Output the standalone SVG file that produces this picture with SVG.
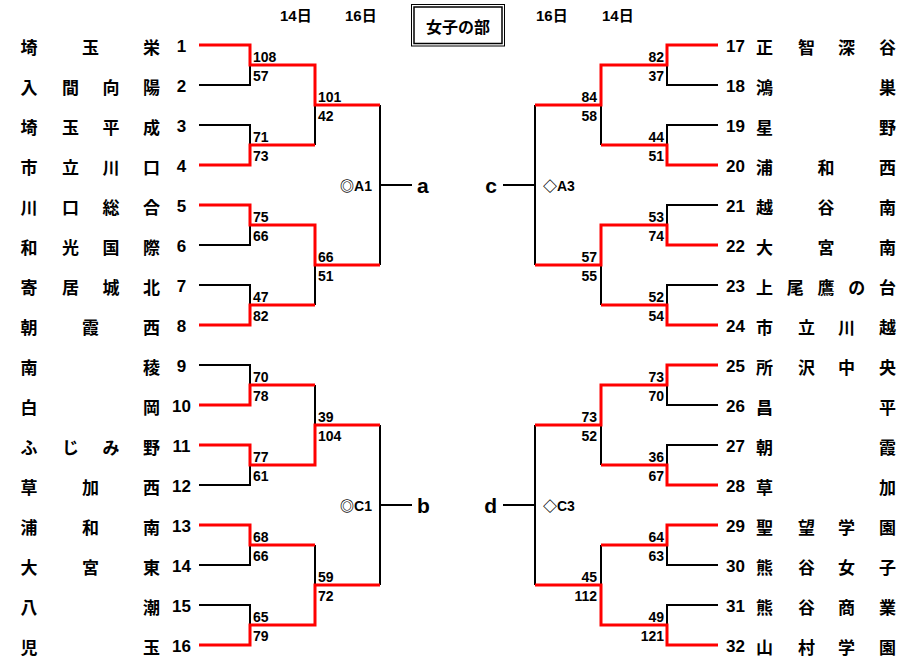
<svg xmlns="http://www.w3.org/2000/svg" width="917" height="658" viewBox="0 0 917 658">
<style>
.nm{font-family:"Noto Sans CJK JP","Noto Sans CJK SC",sans-serif;font-weight:bold;font-size:17px;text-anchor:middle;dominant-baseline:central;fill:#000}
.no{font-family:"Liberation Sans",Arial,sans-serif;font-weight:bold;font-size:17px;fill:#000}
.sc{font-family:"Liberation Sans",Arial,sans-serif;font-weight:bold;font-size:14px;fill:#000}
.scr{font-family:"Liberation Sans",Arial,sans-serif;font-weight:bold;font-size:14px;fill:#000;text-anchor:end}
.hd{font-family:"Liberation Sans","Noto Sans CJK JP",sans-serif;font-weight:bold;font-size:15px;fill:#000}
.lb{font-family:"Liberation Sans","Noto Sans CJK JP",sans-serif;font-weight:bold;font-size:14px;fill:#000}
.sym{font-family:"Noto Sans CJK JP",sans-serif;font-weight:900}
.big{font-family:"Liberation Sans",Arial,sans-serif;font-weight:bold;font-size:21px;fill:#000}
.bk{fill:none;stroke:#000;stroke-width:2}
.rd{fill:none;stroke:#ff0000;stroke-width:3}
</style>
<rect width="917" height="658" fill="#fff"/>
<g id="header">
<text class="hd" x="280" y="21">14日</text>
<text class="hd" x="345" y="21">16日</text>
<text class="hd" x="536" y="21">16日</text>
<text class="hd" x="602" y="21">14日</text>
</g>
<g id="title">
<rect x="411.5" y="4.5" width="93" height="41.5" fill="none" stroke="#000" stroke-width="1"/>
<rect x="414" y="7" width="88" height="36.5" fill="none" stroke="#000" stroke-width="1.5"/>
<text class="nm" x="458" y="26" style="font-size:16px">女子の部</text>
</g>
<g id="connectors">
<path class="bk" d="M199,85H250V65M199,125H250V145M315,105V145M199,245H250V225M199,285H250V305M315,265V305M380,105V265M380,185H412M199,365H250V385M199,485H250V465M315,385V425M199,565H250V545M199,605H250V625M315,545V585M380,425V585M380,505H412"/>
<path class="bk" d="M718,85H667V65M718,125H667V145M601,105V145M718,205H667V225M718,285H667V305M601,265V305M535,105V265M535,185H503M718,405H667V385M718,445H667V465M601,425V465M718,565H667V545M718,605H667V625M601,545V585M535,425V585M535,505H503"/>
<path class="rd" d="M199,45H250V65H315V105H380M199,165H250V145H315M199,205H250V225H315V265H380M199,325H250V305H315M199,405H250V385H315M199,445H250V465H315V425H380M199,525H250V545H315M199,645H250V625H315V585H380"/>
<path class="rd" d="M718,45H667V65H601V105H535M718,165H667V145H601M718,245H667V225H601V265H535M718,325H667V305H601M718,365H667V385H601V425H535M718,485H667V465H601M718,525H667V545H601M718,645H667V625H601V585H535"/>
</g>
<g id="scores-left">
<text class="sc" x="253" y="62">108</text><text class="sc" x="253" y="81">57</text>
<text class="sc" x="253" y="142">71</text><text class="sc" x="253" y="161">73</text>
<text class="sc" x="318" y="102">101</text><text class="sc" x="318" y="121">42</text>
<text class="sc" x="253" y="222">75</text><text class="sc" x="253" y="241">66</text>
<text class="sc" x="253" y="302">47</text><text class="sc" x="253" y="321">82</text>
<text class="sc" x="318" y="262">66</text><text class="sc" x="318" y="281">51</text>
<text class="sc" x="253" y="382">70</text><text class="sc" x="253" y="401">78</text>
<text class="sc" x="253" y="462">77</text><text class="sc" x="253" y="481">61</text>
<text class="sc" x="318" y="422">39</text><text class="sc" x="318" y="441">104</text>
<text class="sc" x="253" y="542">68</text><text class="sc" x="253" y="561">66</text>
<text class="sc" x="253" y="622">65</text><text class="sc" x="253" y="641">79</text>
<text class="sc" x="318" y="582">59</text><text class="sc" x="318" y="601">72</text>
</g>
<g id="scores-right">
<text class="scr" x="664" y="62">82</text><text class="scr" x="664" y="81">37</text>
<text class="scr" x="664" y="142">44</text><text class="scr" x="664" y="161">51</text>
<text class="scr" x="597" y="102">84</text><text class="scr" x="597" y="121">58</text>
<text class="scr" x="664" y="222">53</text><text class="scr" x="664" y="241">74</text>
<text class="scr" x="664" y="302">52</text><text class="scr" x="664" y="321">54</text>
<text class="scr" x="597" y="262">57</text><text class="scr" x="597" y="281">55</text>
<text class="scr" x="664" y="382">73</text><text class="scr" x="664" y="401">70</text>
<text class="scr" x="664" y="462">36</text><text class="scr" x="664" y="481">67</text>
<text class="scr" x="597" y="422">73</text><text class="scr" x="597" y="441">52</text>
<text class="scr" x="664" y="542">64</text><text class="scr" x="664" y="561">63</text>
<text class="scr" x="664" y="622">49</text><text class="scr" x="664" y="641">121</text>
<text class="scr" x="597" y="582">45</text><text class="scr" x="597" y="601">112</text>
</g>
<g id="final-a"><text class="lb" x="372" y="191" text-anchor="end"><tspan class="sym">◎</tspan>A1</text><text class="big" x="417" y="193">a</text></g>
<g id="final-b"><text class="lb" x="372" y="511" text-anchor="end"><tspan class="sym">◎</tspan>C1</text><text class="big" x="417" y="513">b</text></g>
<g id="final-c"><text class="lb" x="543" y="191"><tspan class="sym">◇</tspan>A3</text><text class="big" x="497" y="193" text-anchor="end">c</text></g>
<g id="final-d"><text class="lb" x="543" y="511"><tspan class="sym">◇</tspan>C3</text><text class="big" x="497" y="513" text-anchor="end">d</text></g>
<g id="team1"><text class="nm" x="29" y="46">埼</text><text class="nm" x="90.5" y="46">玉</text><text class="nm" x="151.5" y="46">栄</text><text class="no" x="181.5" y="52" text-anchor="middle">1</text></g>
<g id="team2"><text class="nm" x="29" y="86">入</text><text class="nm" x="70.5" y="86">間</text><text class="nm" x="111" y="86">向</text><text class="nm" x="151.5" y="86">陽</text><text class="no" x="181.5" y="92" text-anchor="middle">2</text></g>
<g id="team3"><text class="nm" x="29" y="126">埼</text><text class="nm" x="70.5" y="126">玉</text><text class="nm" x="111" y="126">平</text><text class="nm" x="151.5" y="126">成</text><text class="no" x="181.5" y="132" text-anchor="middle">3</text></g>
<g id="team4"><text class="nm" x="29" y="166">市</text><text class="nm" x="70.5" y="166">立</text><text class="nm" x="111" y="166">川</text><text class="nm" x="151.5" y="166">口</text><text class="no" x="181.5" y="172" text-anchor="middle">4</text></g>
<g id="team5"><text class="nm" x="29" y="206">川</text><text class="nm" x="70.5" y="206">口</text><text class="nm" x="111" y="206">総</text><text class="nm" x="151.5" y="206">合</text><text class="no" x="181.5" y="212" text-anchor="middle">5</text></g>
<g id="team6"><text class="nm" x="29" y="246">和</text><text class="nm" x="70.5" y="246">光</text><text class="nm" x="111" y="246">国</text><text class="nm" x="151.5" y="246">際</text><text class="no" x="181.5" y="252" text-anchor="middle">6</text></g>
<g id="team7"><text class="nm" x="29" y="286">寄</text><text class="nm" x="70.5" y="286">居</text><text class="nm" x="111" y="286">城</text><text class="nm" x="151.5" y="286">北</text><text class="no" x="181.5" y="292" text-anchor="middle">7</text></g>
<g id="team8"><text class="nm" x="29" y="326">朝</text><text class="nm" x="90.5" y="326">霞</text><text class="nm" x="151.5" y="326">西</text><text class="no" x="181.5" y="332" text-anchor="middle">8</text></g>
<g id="team9"><text class="nm" x="29" y="366">南</text><text class="nm" x="151.5" y="366">稜</text><text class="no" x="181.5" y="372" text-anchor="middle">9</text></g>
<g id="team10"><text class="nm" x="29" y="406">白</text><text class="nm" x="151.5" y="406">岡</text><text class="no" x="181.5" y="412" text-anchor="middle">10</text></g>
<g id="team11"><text class="nm" x="29" y="446">ふ</text><text class="nm" x="70.5" y="446">じ</text><text class="nm" x="111" y="446">み</text><text class="nm" x="151.5" y="446">野</text><text class="no" x="181.5" y="452" text-anchor="middle">11</text></g>
<g id="team12"><text class="nm" x="29" y="486">草</text><text class="nm" x="90.5" y="486">加</text><text class="nm" x="151.5" y="486">西</text><text class="no" x="181.5" y="492" text-anchor="middle">12</text></g>
<g id="team13"><text class="nm" x="29" y="526">浦</text><text class="nm" x="90.5" y="526">和</text><text class="nm" x="151.5" y="526">南</text><text class="no" x="181.5" y="532" text-anchor="middle">13</text></g>
<g id="team14"><text class="nm" x="29" y="566">大</text><text class="nm" x="90.5" y="566">宮</text><text class="nm" x="151.5" y="566">東</text><text class="no" x="181.5" y="572" text-anchor="middle">14</text></g>
<g id="team15"><text class="nm" x="29" y="606">八</text><text class="nm" x="151.5" y="606">潮</text><text class="no" x="181.5" y="612" text-anchor="middle">15</text></g>
<g id="team16"><text class="nm" x="29" y="646">児</text><text class="nm" x="151.5" y="646">玉</text><text class="no" x="181.5" y="652" text-anchor="middle">16</text></g>
<g id="team17"><text class="no" x="726" y="52">17</text><text class="nm" x="764.5" y="46">正</text><text class="nm" x="806.5" y="46">智</text><text class="nm" x="846.5" y="46">深</text><text class="nm" x="887.5" y="46">谷</text></g>
<g id="team18"><text class="no" x="726" y="92">18</text><text class="nm" x="764.5" y="86">鴻</text><text class="nm" x="887.5" y="86">巣</text></g>
<g id="team19"><text class="no" x="726" y="132">19</text><text class="nm" x="764.5" y="126">星</text><text class="nm" x="887.5" y="126">野</text></g>
<g id="team20"><text class="no" x="726" y="172">20</text><text class="nm" x="764.5" y="166">浦</text><text class="nm" x="826" y="166">和</text><text class="nm" x="887.5" y="166">西</text></g>
<g id="team21"><text class="no" x="726" y="212">21</text><text class="nm" x="764.5" y="206">越</text><text class="nm" x="826" y="206">谷</text><text class="nm" x="887.5" y="206">南</text></g>
<g id="team22"><text class="no" x="726" y="252">22</text><text class="nm" x="764.5" y="246">大</text><text class="nm" x="826" y="246">宮</text><text class="nm" x="887.5" y="246">南</text></g>
<g id="team23"><text class="no" x="726" y="292">23</text><text class="nm" x="764.5" y="286">上</text><text class="nm" x="795.3" y="286">尾</text><text class="nm" x="826" y="286">鷹</text><text class="nm" x="856.8" y="286">の</text><text class="nm" x="887.5" y="286">台</text></g>
<g id="team24"><text class="no" x="726" y="332">24</text><text class="nm" x="764.5" y="326">市</text><text class="nm" x="806.5" y="326">立</text><text class="nm" x="846.5" y="326">川</text><text class="nm" x="887.5" y="326">越</text></g>
<g id="team25"><text class="no" x="726" y="372">25</text><text class="nm" x="764.5" y="366">所</text><text class="nm" x="806.5" y="366">沢</text><text class="nm" x="846.5" y="366">中</text><text class="nm" x="887.5" y="366">央</text></g>
<g id="team26"><text class="no" x="726" y="412">26</text><text class="nm" x="764.5" y="406">昌</text><text class="nm" x="887.5" y="406">平</text></g>
<g id="team27"><text class="no" x="726" y="452">27</text><text class="nm" x="764.5" y="446">朝</text><text class="nm" x="887.5" y="446">霞</text></g>
<g id="team28"><text class="no" x="726" y="492">28</text><text class="nm" x="764.5" y="486">草</text><text class="nm" x="887.5" y="486">加</text></g>
<g id="team29"><text class="no" x="726" y="532">29</text><text class="nm" x="764.5" y="526">聖</text><text class="nm" x="806.5" y="526">望</text><text class="nm" x="846.5" y="526">学</text><text class="nm" x="887.5" y="526">園</text></g>
<g id="team30"><text class="no" x="726" y="572">30</text><text class="nm" x="764.5" y="566">熊</text><text class="nm" x="806.5" y="566">谷</text><text class="nm" x="846.5" y="566">女</text><text class="nm" x="887.5" y="566">子</text></g>
<g id="team31"><text class="no" x="726" y="612">31</text><text class="nm" x="764.5" y="606">熊</text><text class="nm" x="806.5" y="606">谷</text><text class="nm" x="846.5" y="606">商</text><text class="nm" x="887.5" y="606">業</text></g>
<g id="team32"><text class="no" x="726" y="652">32</text><text class="nm" x="764.5" y="646">山</text><text class="nm" x="806.5" y="646">村</text><text class="nm" x="846.5" y="646">学</text><text class="nm" x="887.5" y="646">園</text></g>
</svg>
